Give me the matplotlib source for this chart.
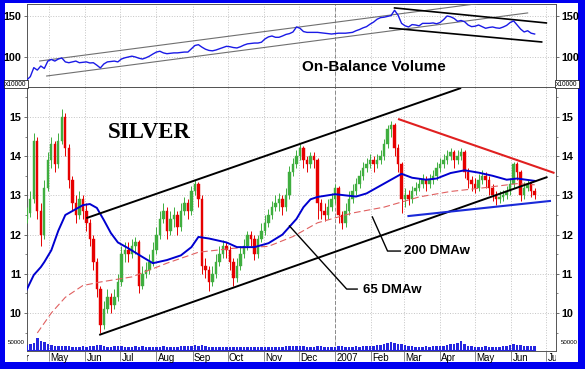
import numpy as np
import pandas as pd
import matplotlib
matplotlib.use("Agg")
import matplotlib.pyplot as plt
from matplotlib.patches import Rectangle
from matplotlib.transforms import Bbox, TransformedBbox, blended_transform_factory

plt.rcParams['font.family'] = ['Liberation Sans', 'DejaVu Sans']

# ------------------------------------
# Data (one bar every 3 days)
# ------------------------------------

dates = pd.date_range("2006-04-12", periods=146, freq="3D")

close = [12.55, 12.9, 14.4, 12.6, 12.0, 13.2, 13.9, 14.3, 13.8, 14.4,
         15.0, 14.2, 13.4, 12.8, 12.5, 12.9, 12.6, 12.3, 11.9, 11.3,
         10.6, 9.7, 10.1, 10.4, 10.2, 10.4, 10.8, 11.5, 11.6, 11.5,
         11.7, 11.8, 10.7, 11.0, 11.1, 11.3, 11.6, 12.0, 12.4, 12.6,
         12.1, 12.4, 12.5, 12.2, 12.6, 12.8, 12.6, 13.1, 13.3, 12.9,
         11.2, 11.1, 10.8, 11.0, 11.3, 11.5, 11.7, 11.6, 11.3, 10.9,
         11.2, 11.5, 11.7, 12.0, 11.9, 11.5, 11.9, 12.1, 12.3, 12.5,
         12.7, 12.8, 12.9, 12.7, 13.0, 13.6, 13.8, 14.0, 14.2, 13.9,
         13.8, 14.0, 13.9, 12.8, 12.6, 12.5, 12.7, 12.9, 13.2, 12.5,
         12.3, 12.6, 12.9, 13.1, 13.3, 13.5, 13.7, 13.8, 13.9, 13.8,
         13.9, 14.0, 14.3, 14.7, 14.8, 14.2, 13.8, 12.9, 13.0, 12.9,
         13.1, 13.2, 13.3, 13.4, 13.3, 13.4, 13.5, 13.7, 13.8, 13.9,
         14.0, 14.1, 13.9, 14.0, 14.1, 13.6, 13.4, 13.3, 13.2, 13.4,
         13.5, 13.4, 13.2, 13.0, 12.9, 12.95, 13.0, 13.1, 13.3, 13.8,
         13.6, 13.0, 13.2, 13.3, 13.1, 13.0]

high = [12.7, 13.1, 14.6, 14.5, 12.8, 13.4, 14.1, 14.5, 14.4, 14.6,
        15.2, 15.1, 14.3, 13.5, 13.0, 13.1, 13.0, 12.8, 12.4, 12.0,
        11.4, 10.7, 10.3, 10.6, 10.5, 10.6, 11.0, 11.7, 11.8, 11.8,
        11.9, 11.95, 11.85, 11.2, 11.3, 11.5, 11.8, 12.2, 12.6, 12.8,
        12.7, 12.6, 12.7, 12.6, 12.8, 12.95, 12.9, 13.25, 13.4, 13.35,
        13.0, 11.4, 11.2, 11.2, 11.5, 11.7, 11.85, 11.8, 11.7, 11.4,
        11.4, 11.7, 11.9, 12.1, 12.1, 12.0, 12.0, 12.3, 12.5, 12.65,
        12.85, 13.0, 13.05, 13.0, 13.2, 13.75, 13.95, 14.15, 14.3, 14.25,
        14.0, 14.1, 14.1, 13.95, 12.9, 12.8, 12.9, 13.05, 13.3, 13.25,
        12.6, 12.8, 13.1, 13.3, 13.45, 13.65, 13.85, 13.95, 14.05, 14.0,
        14.05, 14.15, 14.45, 14.8, 14.9, 14.85, 14.3, 13.85, 13.2, 13.15,
        13.25, 13.35, 13.45, 13.55, 13.5, 13.55, 13.65, 13.85, 13.95, 14.05,
        14.15, 14.2, 14.15, 14.15, 14.2, 14.15, 13.7, 13.5, 13.45, 13.55,
        13.65, 13.6, 13.5, 13.3, 13.1, 13.1, 13.15, 13.25, 13.45, 13.85,
        13.85, 13.65, 13.35, 13.4, 13.35, 13.2]

low = [12.3, 12.45, 12.8, 12.4, 11.7, 11.9, 13.1, 13.7, 13.6, 13.7,
       14.3, 14.0, 13.2, 12.6, 12.3, 12.4, 12.4, 12.1, 11.7, 11.1,
       10.4, 9.5, 9.6, 10.0, 10.0, 10.1, 10.3, 10.7, 11.3, 11.3,
       11.4, 11.5, 10.5, 10.6, 10.9, 11.0, 11.2, 11.5, 11.9, 12.3,
       11.9, 12.0, 12.2, 12.0, 12.1, 12.5, 12.4, 12.5, 13.0, 12.7,
       11.0, 10.9, 10.55, 10.7, 10.9, 11.2, 11.4, 11.4, 11.1, 10.7,
       10.8, 11.1, 11.4, 11.6, 11.7, 11.35, 11.4, 11.8, 12.0, 12.2,
       12.4, 12.6, 12.6, 12.5, 12.6, 12.9, 13.5, 13.7, 13.9, 13.7,
       13.6, 13.7, 13.7, 12.4, 12.4, 12.35, 12.4, 12.6, 12.8, 12.3,
       12.15, 12.2, 12.5, 12.8, 13.0, 13.2, 13.4, 13.6, 13.7, 13.6,
       13.7, 13.8, 13.9, 14.2, 14.5, 14.0, 13.6, 12.55, 12.7, 12.75,
       12.8, 13.0, 13.1, 13.2, 13.1, 13.2, 13.3, 13.4, 13.6, 13.7,
       13.8, 13.9, 13.7, 13.8, 13.9, 13.45, 13.2, 13.1, 13.05, 13.1,
       13.3, 13.2, 13.0, 12.85, 12.75, 12.8, 12.85, 12.9, 13.0, 13.2,
       13.4, 12.85, 12.9, 13.1, 12.95, 12.9]

open_ = [12.4] + close[:-1]

volume_k = [35, 40, 50, 85, 62, 57,
            45, 38, 30, 28, 32, 26, 25,
            22, 24, 20, 25, 22, 28, 30, 35,
            38, 28, 24, 22, 25, 30,
            28, 22, 20, 24, 26, 22, 30,
            22, 20, 24, 22, 20, 25, 22,
            20, 18, 22, 26, 30, 28, 32, 34,
            30, 36, 28, 24, 22, 20, 22,
            20, 18, 22, 24, 20, 22, 18, 20,
            22, 24, 20, 18, 20, 22, 24,
            22, 20, 24, 26, 30, 28, 32,
            30, 26, 22, 24, 20, 30, 28,
            22, 20, 24, 22, 26, 28, 24,
            22, 24, 26, 24, 28, 26, 30,
            32, 36, 38, 44, 52, 55, 48,
            40, 46, 34, 28, 26, 24, 22,
            24, 26, 24, 28, 30, 32, 30,
            34, 40, 44, 52, 64, 42, 30,
            26, 24, 22, 24, 26, 22, 20,
            24, 22, 26, 30, 36, 40, 34,
            38, 32, 30, 26, 28]

obv = [72, 76, 87, 84, 89, 86, 95, 97, 95, 97.5,
       98.8, 94, 93, 94, 95, 93, 93.5, 94, 92.7, 93,
       90, 86.6, 91.5, 94, 94.5, 95, 94, 97.5, 99, 100,
       101, 100, 98.5, 97.5, 99, 101, 103.6, 106, 107, 105,
       104, 104.5, 105, 105, 105.5, 106, 106, 110, 114, 115,
       112, 109.5, 108, 107.5, 108.5, 110, 111.5, 113, 112.5, 111.5,
       111, 112.5, 114.5, 116, 116.5, 117, 117, 118, 122, 124.5,
       125.6, 124, 124, 125.6, 127.5, 128.5, 130.5, 136.6, 135, 131,
       130, 130, 130, 130, 129.5, 129, 128.5, 128, 128.5, 129,
       129, 129, 129.5, 130, 132, 133.5, 135.5, 137, 140, 142.5,
       146, 148, 148.5, 149.5, 150.5, 157, 151, 141, 138, 136.6,
       139.5, 139, 138, 141, 141, 141, 141.5, 140.5, 142, 145.5,
       150, 149, 147, 143.5, 144.5, 143, 139, 137, 137.5, 139,
       137, 135, 136, 136.6, 135.5, 135, 136.5, 138.5, 142, 144,
       139, 134, 130.5, 132, 129, 128]

# moving averages, given at bar indices
ma65_idx = [0, 2, 4, 5, 7, 9, 10, 11, 13, 16, 18, 20, 22, 24, 26, 29, 33, 36,
            40, 44, 47, 49, 52, 57, 60, 65, 69, 73, 75, 77, 79, 81, 83, 88,
            91, 94, 97, 102, 105, 107, 110, 114, 117, 121, 125, 129, 133,
            137, 140, 145]
ma65 = [10.6, 10.97, 11.17, 11.3, 11.6, 12.1, 12.3, 12.5, 12.6, 12.75, 12.78,
        12.68, 12.37, 12.04, 11.8, 11.65, 11.43, 11.27, 11.35, 11.47, 11.68,
        11.94, 11.9, 11.8, 11.68, 11.68, 11.78, 12.0, 12.2, 12.4, 12.7, 12.9,
        12.96, 13.03, 13.0, 12.97, 13.05, 13.3, 13.45, 13.55, 13.45, 13.4,
        13.43, 13.57, 13.64, 13.58, 13.5, 13.4, 13.43, 13.37]

ma200_idx = [3, 7, 11, 16, 21, 30, 40, 49, 59, 69, 76, 83, 93, 102, 112,
             121, 131, 140, 145]
ma200 = [9.49, 10.0, 10.4, 10.7, 10.79, 10.92, 11.27, 11.55, 11.65, 11.7,
         11.95, 12.3, 12.55, 12.7, 12.96, 13.1, 13.2, 13.3, 13.27]

# trend lines: (dates, values)
channel_top = (["2006-06-02", "2007-04-19"], [12.42, 15.74])
channel_bot = (["2006-06-13", "2007-07-02"], [9.44, 13.47])
red_line = (["2007-02-24", "2007-07-08"], [14.95, 13.57])
blue_line = (["2007-03-04", "2007-07-05"], [12.47, 12.86])

obv_thin_top = (["2006-04-23", "2007-05-11"], [95.1, 166.5])
obv_thin_bot = (["2006-04-29", "2007-06-15"], [76.8, 153.7])
obv_thick_top = (["2007-02-21", "2007-07-01"], [159.8, 141.5])
obv_thick_bot = (["2007-02-17", "2007-06-27"], [135.4, 118.3])

lead_200 = (["2007-02-02", "2007-02-15", "2007-02-26"], [12.45, 11.58, 11.58])
lead_65 = (["2006-11-23", "2007-01-11", "2007-01-20"], [12.22, 10.61, 10.61])

months = pd.date_range("2006-04-01", "2007-07-01", freq="MS")
month_labels = ["Apr", "May", "Jun", "Jul", "Aug", "Sep", "Oct", "Nov", "Dec",
                "2007", "Feb", "Mar", "Apr", "May", "Jun", "Jul"]

GREEN = "#3fae3f"
RED = "#e60000"
BLUE = "#0000d0"

# ------------------------------------
# Figure
# ------------------------------------

fig = plt.figure(figsize=(5.85, 3.69), dpi=100, facecolor="#0000f0")
fig.add_artist(Rectangle((5/585, 7/369), 573/585, 359/369,
                         transform=fig.transFigure, facecolor="white",
                         edgecolor="none", zorder=-10))

ax = fig.add_axes([27/585, 18/369, 529/585, 264/369])
ax_top = fig.add_axes([27/585, 282/369, 529/585, 83/369], sharex=ax)

def td(lst):
    return pd.to_datetime(lst)

# candles
o = np.array(open_)
c = np.array(close)
col = np.where(c >= o, GREEN, RED)
ax.vlines(dates, low, high, colors=col, lw=0.7, zorder=3)
ax.bar(dates, np.maximum(np.abs(c - o), 0.03), bottom=np.minimum(o, c),
       width=2.0, color=col, edgecolor=col, linewidth=0.3, zorder=3)

# moving averages
ax.plot(dates[ma200_idx], ma200, color="#e06060", lw=0.8,
        dashes=(6, 3), zorder=4)
ax.plot(dates[ma65_idx], ma65, color=BLUE, lw=1.4, zorder=5)

# trend lines
for (d, v), colr, lw in [(channel_top, "black", 1.4), (channel_bot, "black", 1.4),
                         (red_line, "#e02020", 1.5), (blue_line, "#1a2ad8", 1.5)]:
    ax.plot(td(d), v, color=colr, lw=lw, zorder=6, solid_capstyle="butt")

ax.plot(td(lead_200[0]), lead_200[1], color="black", lw=1, zorder=6)
ax.plot(td(lead_65[0]), lead_65[1], color="black", lw=1, zorder=6)
ax.text(pd.Timestamp("2007-03-01"), 11.58, "200 DMAw", fontsize=9.5,
        fontweight="bold", va="center", ha="left", zorder=7)
ax.text(pd.Timestamp("2007-01-25"), 10.58, "65 DMAw", fontsize=9.5,
        fontweight="bold", va="center", ha="left", zorder=7)
ax.text(pd.Timestamp("2006-07-26"), 14.6, "SILVER", fontsize=16.5,
        fontweight="bold", family="Liberation Serif", ha="center",
        va="center", zorder=7)

# volume in the bottom of the price panel
ax_v = fig.add_axes(ax.get_position(), sharex=ax, facecolor="none")
ax_v.bar(dates, np.array(volume_k) * 1000, width=2.2, color="#2525e0",
         linewidth=0)
ax_v.plot([dates[0], dates[-1]], [0, 0], color="#2525e0", lw=0.8)
ax_v.set_ylim(-7143, 1878571)
ax_v.axis("off")
vt = blended_transform_factory(ax_v.transAxes, ax_v.transData)
ax_v.text(-0.004, 50000, "50000", fontsize=4.4, ha="right", va="center",
          transform=vt)
ax_v.text(1.01, 50000, "50000", fontsize=4.4, ha="left", va="center",
          transform=vt)

# OBV panel
ax_top.plot(dates, obv, color="#1a1ae6", lw=1.0, zorder=5)
for (d, v), colr, lw in [(obv_thin_top, "#707070", 0.8), (obv_thin_bot, "#707070", 0.8),
                         (obv_thick_top, "black", 1.2), (obv_thick_bot, "black", 1.2)]:
    ax_top.plot(td(d), v, color=colr, lw=lw, zorder=4)
ax_top.text(pd.Timestamp("2006-12-04"), 87.8, "On-Balance Volume",
            fontsize=11, fontweight="bold", va="center", ha="left")

# axes styling
ax.set_xticks(months)
ax.set_yticks([10, 11, 12, 13, 14, 15])
ax.set_yticks(np.arange(9.5, 15.6, 0.5), minor=True)
ax_top.set_yticks([100, 150])

ax.set_xlim(pd.Timestamp("2006-04-12 04:00"), pd.Timestamp("2007-07-09 07:00"))
ax.set_ylim(9.03, 15.765)
ax_top.set_ylim(63.4, 164.6)

for a in (ax, ax_top):
    a.grid(True, color="#c4c4c4", ls=":", lw=0.7)
    a.axvline(pd.Timestamp("2007-01-01"), color="#8a8a8a", dashes=(4, 2), lw=0.7)
    a.tick_params(axis="y", left=True, right=True, labelleft=True,
                  labelright=True, labelsize=7.8, length=2.5, pad=1.5,
                  width=0.6, color="#555555")
    a.tick_params(axis="y", which="minor", left=True, right=True, length=1.5,
                  width=0.5, color="#555555")
    for s in a.spines.values():
        s.set_color("#555555")
        s.set_linewidth(0.7)
    for t in a.yaxis.get_major_ticks():
        t.label1.set_fontweight("bold")
        t.label2.set_fontweight("bold")

ax_top.tick_params(axis="x", length=0, labelbottom=False)
ax.tick_params(axis="x", length=7, direction="out", labelbottom=False,
               color="#777777", width=0.6)

trans = blended_transform_factory(ax.transData, ax.transAxes)
clip = TransformedBbox(Bbox([[0, -0.2], [1, 1]]), ax.transAxes)
for m, lab in zip(months, month_labels):
    t = ax.text(m + pd.Timedelta(days=1), -0.009, lab, transform=trans,
                ha="left", va="top", fontsize=7)
    t.set_clip_path(None)
    t.set_clip_box(clip)
    t.set_clip_on(True)

# x10000 boxes
for xx in (16/585, 567/585):
    fig.text(xx, 1 - 84/369, "x10000", fontsize=4.8, ha="center", va="center",
             bbox=dict(boxstyle="square,pad=0.12", facecolor="white",
                       edgecolor="black", linewidth=0.5))

fig.savefig("out.png", dpi=100, facecolor=fig.get_facecolor())
